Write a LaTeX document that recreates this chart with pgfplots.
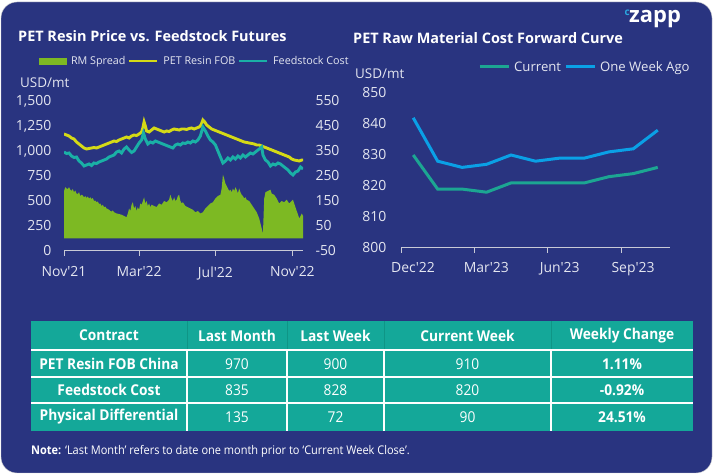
\documentclass[border=0pt]{standalone}
\usepackage{pgfplots}
\pgfplotsset{compat=1.18}
\usepackage{fontspec}
\setmainfont{Open Sans}
\newfontfamily\cond[FakeStretch=0.92]{Open Sans}
\definecolor{navy}{HTML}{293480}
\definecolor{tablecol}{HTML}{14A899}
\definecolor{tabledark}{HTML}{0F9586}
\definecolor{petyellow}{HTML}{D5DA16}
\definecolor{feedteal}{HTML}{1AB0A6}
\definecolor{rmgreen}{HTML}{7DB923}
\definecolor{curgreen}{HTML}{1CA692}
\definecolor{weekblue}{HTML}{0AA0E6}
\definecolor{ticktxt}{HTML}{E4E6F0}
\definecolor{axisgray}{HTML}{C8CAD6}
\definecolor{logoblue}{HTML}{2AA8E0}

\pgfplotstableread{
d v
0 190
2 205
4 200
6 198
8 205
10 195
12 190
14 198
16 185
18 192
20 180
22 178
24 185
26 170
28 175
30 172
32 165
34 170
36 162
38 168
40 160
42 165
44 158
46 162
48 150
50 152
52 145
54 148
56 138
58 140
60 130
62 135
64 125
66 128
68 120
70 118
72 115
74 110
76 108
78 112
80 105
84 100
88 98
92 95
96 90
100 85
102 100
104 120
106 110
108 135
110 145
112 120
114 130
116 110
118 125
120 115
122 140
124 135
126 150
128 165
130 140
132 150
134 130
136 140
138 125
140 135
144 130
148 126
152 140
156 135
160 150
164 145
168 155
170 175
172 160
174 150
176 165
178 150
180 155
182 170
184 175
186 150
188 140
190 145
194 130
198 125
202 120
206 115
210 105
214 110
218 100
222 105
226 120
230 130
234 140
238 145
242 160
246 170
250 175
252 200
254 255
256 240
258 220
260 210
262 200
264 190
266 195
268 185
270 200
272 190
274 205
276 195
278 180
280 200
282 185
284 175
286 170
288 160
290 165
292 155
296 150
300 135
304 120
308 105
312 80
316 40
318 20
320 160
322 185
326 190
330 195
332 180
336 175
340 160
344 140
348 150
352 145
356 155
360 140
364 150
366 155
368 140
372 110
374 95
376 80
378 90
380 100
382 90
}\rmspread

\pgfplotstableread{
d v
0 1170
4 1160
8 1150
12 1130
16 1120
20 1090
24 1070
28 1050
32 1030
36 1020
40 1025
44 1030
48 1035
52 1030
56 1040
60 1050
64 1060
68 1070
72 1080
76 1090
80 1100
84 1095
88 1110
92 1120
96 1130
100 1140
104 1130
108 1150
112 1160
116 1155
120 1170
124 1190
126 1230
128 1290
130 1250
132 1200
136 1190
140 1210
144 1230
148 1220
152 1210
156 1200
160 1190
164 1200
168 1195
172 1210
176 1220
180 1215
184 1210
188 1220
192 1220
196 1215
200 1225
204 1230
208 1220
212 1230
216 1240
219 1260
222 1310
225 1290
228 1260
232 1240
236 1220
240 1210
244 1200
248 1190
252 1180
256 1170
260 1160
264 1150
268 1140
272 1130
276 1120
280 1110
284 1100
288 1090
292 1085
296 1080
300 1075
304 1070
308 1060
312 1060
316 1050
320 1040
324 1030
328 1020
332 1010
336 1000
340 990
344 980
348 970
352 960
356 950
360 940
364 920
368 910
372 905
376 900
380 910
382 910
}\petfob

\pgfplotstableread{
d v
0 990
4 975
8 980
12 950
16 935
20 940
24 900
28 880
32 850
36 860
40 870
44 855
48 880
52 875
56 890
60 900
64 910
68 920
72 940
76 950
80 960
84 990
88 1000
92 980
96 1020
100 1040
104 1010
108 985
112 1000
116 1040
120 1080
124 1110
127 1180
130 1120
134 1070
138 1090
142 1080
146 1100
150 1090
154 1080
158 1070
162 1060
166 1050
170 1040
174 1030
178 1060
182 1070
186 1060
190 1080
194 1075
198 1090
202 1080
206 1100
210 1090
214 1110
218 1150
222 1240
226 1200
230 1150
234 1110
238 1090
242 1060
246 1000
250 940
254 880
258 900
262 930
266 910
270 940
274 920
278 950
282 930
286 960
290 940
294 960
298 980
302 970
306 990
310 1010
314 1030
316 1040
318 960
322 910
326 890
330 850
334 870
338 860
342 880
346 870
350 850
354 830
358 810
362 780
366 760
370 790
374 800
378 840
382 820
}\feedcost

\pgfplotstableread{
m cur week
0.5 830 842
1.5 819 828
2.5 819 826
3.5 818 827
4.5 821 830
5.5 821 828
6.5 821 829
7.5 821 829
8.5 823 831
9.5 824 832
10.5 826 838
}\fwd

\begin{document}
\begin{tikzpicture}
\useasboundingbox (0,0) rectangle (715bp,476bp);
\fill[white] (0,0) rectangle (715bp,476bp);
\begin{scope}[x=1bp,y=-1bp,shift={(0,476bp)}]
  \draw[gray!35, fill=navy, rounded corners=16bp] (1,2) rectangle (712,473);
  % titles
  \node[anchor=west, text=white, font=\bfseries\fontsize{14.5}{16}\selectfont, inner sep=0] at (18,36) {PET Resin Price vs. Feedstock Futures};
  \node[anchor=west, text=white, font=\bfseries\fontsize{14.5}{16}\selectfont, inner sep=0] at (353,38) {PET Raw Material Cost Forward Curve};
  \node[anchor=west, text=ticktxt, font=\fontsize{13.5}{15}\selectfont, inner sep=0] at (20,83) {USD/mt};
  \node[anchor=west, text=ticktxt, font=\fontsize{13.5}{15}\selectfont, inner sep=0] at (355,74) {USD/mt};
  % logo
  \node[anchor=west, text=white, font=\bfseries\fontsize{22}{24}\selectfont, inner sep=0] at (629,19) {zapp};
  \node[anchor=east, text=logoblue, font=\bfseries\fontsize{10}{12}\selectfont, inner sep=0] at (630,13) {c};
  % table
  \fill[tablecol] (31,321) rectangle (693,431);
  \foreach \xx in {187,287,384,551} {
    \draw[tabledark, line width=0.8bp] (\xx,321) -- (\xx,350);
    \draw[white, line width=1.2bp] (\xx,350) -- (\xx,431);
  }
  \draw[white, line width=2.5bp] (31,350) -- (693,350);
  \draw[white, line width=2bp] (31,377) -- (693,377);
  \draw[white, line width=2bp] (31,403) -- (693,403);
  \begin{scope}[every node/.style={text=white, inner sep=0, font=\cond\fontsize{15}{17}\selectfont}]
    \node[font=\cond\bfseries\fontsize{15}{17}\selectfont] at (109,335.5) {Contract};
    \node[font=\cond\bfseries\fontsize{15}{17}\selectfont] at (237,335.5) {Last Month};
    \node[font=\cond\bfseries\fontsize{15}{17}\selectfont] at (335.5,335.5) {Last Week};
    \node[font=\cond\bfseries\fontsize{15}{17}\selectfont] at (467.5,335.5) {Current Week};
    \node[font=\cond\bfseries\fontsize{15}{17}\selectfont] at (622,335.5) {Weekly Change};
    \node[font=\cond\bfseries\fontsize{15}{17}\selectfont] at (109,364) {PET Resin FOB China};
    \node[font=\cond\bfseries\fontsize{15}{17}\selectfont] at (109,390) {Feedstock Cost};
    \node[font=\cond\bfseries\fontsize{15}{17}\selectfont] at (109,417) {Physical Differential};
    \node at (237,364) {970};
    \node at (335.5,364) {900};
    \node at (467.5,364) {910};
    \node[font=\cond\bfseries\fontsize{15}{17}\selectfont] at (622,364) {1.11\%};
    \node at (237,390) {835};
    \node at (335.5,390) {828};
    \node at (467.5,390) {820};
    \node[font=\cond\bfseries\fontsize{15}{17}\selectfont] at (622,390) {-0.92\%};
    \node at (237,417) {135};
    \node at (335.5,417) {72};
    \node at (467.5,417) {90};
    \node[font=\cond\bfseries\fontsize{15}{17}\selectfont] at (622,417) {24.51\%};
  \end{scope}
  \node[anchor=west, inner sep=0, text=white, font=\cond\fontsize{12}{14}\selectfont] at (31,451) {\textbf{Note:} ‘Last Month’ refers to date one month prior to ‘Current Week Close’.};
\end{scope}

% ---- left chart: RM spread on right axis
\begin{axis}[
  at={(64bp,225bp)}, anchor=south west, scale only axis,
  width=239bp, height=150bp,
  xmin=0, xmax=382, ymin=-50, ymax=550,
  hide x axis,
  axis y line*=right,
  y axis line style={draw=none},
  ytick={-50,50,150,250,350,450,550},
  major tick length=0pt,
  yticklabel style={font=\fontsize{14}{16}\selectfont, text=ticktxt, xshift=9bp},
  /pgf/number format/assume math mode=true,
]
\addplot[fill=rmgreen, draw=none] table[x=d, y=v] {\rmspread} \closedcycle;
\end{axis}

% ---- left chart: prices on left axis
\begin{axis}[
  at={(64bp,225bp)}, anchor=south west, scale only axis,
  width=239bp, height=150bp,
  xmin=0, xmax=382, ymin=0, ymax=1500,
  axis x line*=bottom, axis y line*=left,
  x axis line style={draw=axisgray, line width=1pt, -},
  y axis line style={draw=none},
  xtick={0,120,242,365},
  xticklabels={Nov\textquotesingle 21, Mar\textquotesingle 22, Jul\textquotesingle 22, Nov\textquotesingle 22},
  ytick={0,250,...,1500},
  xtick style={draw=axisgray, line width=1pt},
  ytick style={draw=none},
  x tick style={/pgfplots/major tick length=5bp},
  y tick style={/pgfplots/major tick length=0pt},
  tick align=outside,
  xticklabel style={font=\fontsize{14}{16}\selectfont, text=ticktxt, yshift=-8bp},
  yticklabel style={font=\fontsize{14}{16}\selectfont, text=ticktxt, xshift=-5bp, /pgf/number format/.cd, 1000 sep={,}},
  /pgf/number format/assume math mode=true,
  legend columns=3,
  legend style={at={(-25bp,190bp)}, anchor=west, draw=none, fill=none, font=\fontsize{10.8}{13}\selectfont, text=ticktxt,
    /tikz/every odd column/.append style={column sep=2.5bp},
    /tikz/every even column/.append style={column sep=0.5bp}, inner sep=0pt},
  legend image code/.code={\draw[#1, line width=2.8bp] (0bp,0bp) -- (28bp,0bp);},
]
\addlegendimage{legend image code/.code={\fill[rmgreen] (0bp,-3bp) rectangle (27bp,3bp);}}
\addlegendentry{RM Spread}
\addplot[petyellow, line width=2.9bp] table[x=d, y=v] {\petfob};
\addlegendentry{PET Resin FOB}
\addplot[feedteal, line width=2.9bp] table[x=d, y=v] {\feedcost};
\addlegendentry{Feedstock Cost}
\end{axis}

% ---- right chart
\begin{axis}[
  at={(401bp,228bp)}, anchor=south west, scale only axis,
  width=269bp, height=155bp,
  xmin=0, xmax=11, ymin=800, ymax=850,
  axis x line*=bottom, axis y line*=left,
  x axis line style={draw=axisgray, line width=1pt, -},
  y axis line style={draw=none},
  xtick={0,3,6,9},
  xticklabels={Dec\textquotesingle 22, Mar\textquotesingle 23, Jun\textquotesingle 23, Sep\textquotesingle 23},
  ytick={800,810,...,850},
  xtick style={draw=axisgray, line width=1pt},
  ytick style={draw=none},
  x tick style={/pgfplots/major tick length=5bp},
  y tick style={/pgfplots/major tick length=0pt},
  tick align=outside,
  xticklabel style={font=\fontsize{14}{16}\selectfont, text=ticktxt, yshift=-7bp, xshift=12bp},
  yticklabel style={font=\fontsize{14}{16}\selectfont, text=ticktxt, xshift=-7bp},
  /pgf/number format/assume math mode=true,
  legend columns=2,
  legend style={at={(77bp,181bp)}, anchor=west, draw=none, fill=none, font=\fontsize{13.2}{15}\selectfont, text=ticktxt,
    /tikz/every odd column/.append style={column sep=2bp},
    /tikz/every even column/.append style={column sep=1bp}, inner sep=0pt},
  legend image code/.code={\draw[#1, line width=3bp] (0bp,0bp) -- (29bp,0bp);},
]
\addplot[curgreen, line width=3bp] table[x=m, y=cur] {\fwd};
\addlegendentry{Current}
\addplot[weekblue, line width=3bp] table[x=m, y=week] {\fwd};
\addlegendentry{One Week Ago}
\end{axis}
\end{tikzpicture}
\end{document}
